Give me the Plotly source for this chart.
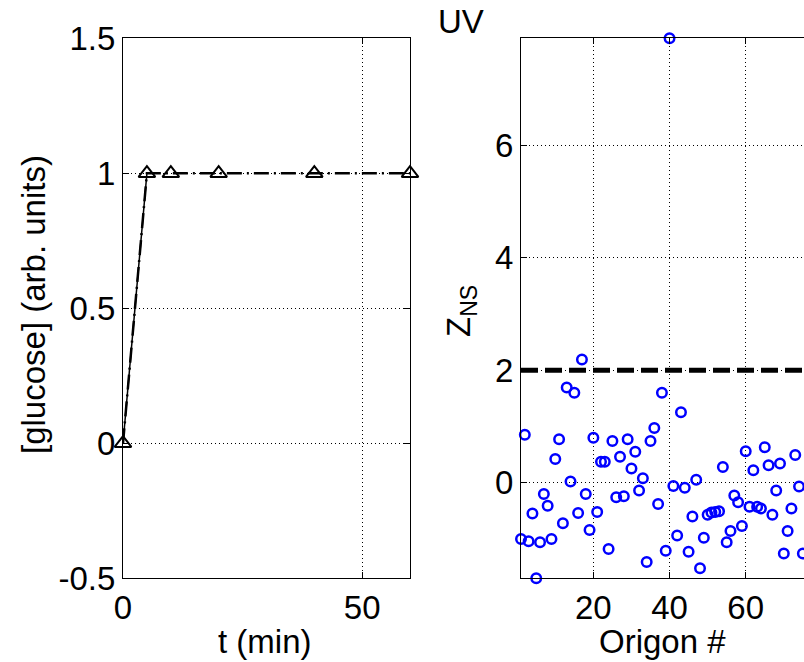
import plotly.graph_objects as go

# ---------------- data ----------------
t_min = [0, 5, 10, 20, 40, 60]
glucose = [0, 1, 1, 1, 1, 1]
ramp_t = [0, 5]
ramp_v = [0, 1]

origon = list(range(1, 77))
z_ns = [-1.00, 0.85, -1.04, -0.55, -1.70, -1.06, -0.20, -0.41, -1.00, 0.42,
        0.77, -0.72, 1.69, 0.02, 1.60, -0.54, 2.19, -0.20, -0.84, 0.80,
        -0.52, 0.37, 0.37, -1.18, 0.74, -0.26, 0.46, -0.24, 0.77, 0.25,
        0.55, -0.14, 0.08, -1.41, 0.74, 0.97, -0.38, 1.60, -1.21, 7.90,
        -0.06, -0.94, 1.25, -0.09, -1.23, -0.60, 0.05, -1.52, -0.98, -0.57,
        -0.53, -0.52, -0.51, 0.28, -1.06, -0.86, -0.23, -0.35, -0.77, 0.56,
        -0.43, 0.22, -0.43, -0.46, 0.63, 0.31, -0.57, -0.14, 0.34, -1.26,
        -0.86, -0.46, 0.49, -0.07, -1.26, 0.22]
threshold = 2

left_yticks = [-0.5, 0, 0.5, 1, 1.5]
left_yticklabels = ["-0.5", "0", "0.5", "1", "1.5"]
left_xticks = [0, 50]
right_xticks = [20, 40, 60]
right_yticks = [0, 2, 4, 6]

# ---------------- layout helpers ----------------
W, H = 804, 662
FONT = "Liberation Sans, Arial, Helvetica, sans-serif"
FS = 33


def px(x):
    return x / W


def py(y):
    return 1 - y / H


fig = go.Figure()

fig.add_trace(go.Scatter(x=ramp_t, y=ramp_v, mode="lines",
                         line=dict(color="black", width=1.5),
                         xaxis="x", yaxis="y", showlegend=False,
                         cliponaxis=False))
fig.add_trace(go.Scatter(x=t_min, y=glucose, mode="lines+markers",
                         line=dict(color="black", width=2.5, dash="15px,5px,2px,5px"),
                         marker=dict(symbol="triangle-up-open", size=14.5,
                                     color="black", line=dict(width=2, color="black")),
                         xaxis="x", yaxis="y", showlegend=False,
                         cliponaxis=False))

fig.add_trace(go.Scatter(x=origon, y=z_ns, mode="markers",
                         marker=dict(symbol="circle-open", size=9.5,
                                     color="#0000ff", line=dict(width=2.5, color="#0000ff")),
                         xaxis="x2", yaxis="y2", showlegend=False,
                         cliponaxis=False))

fig.add_shape(type="line", xref="x2 domain", yref="y2",
              x0=0, x1=1, y0=threshold, y1=threshold,
              line=dict(color="black", width=5, dash="17px,7px"))

common_axis = dict(
    showline=True, linecolor="black", linewidth=1,
    ticks="inside", ticklen=6, tickcolor="black", tickwidth=1,
    showgrid=True, gridcolor="black", gridwidth=1, griddash="1px,3px",
    zeroline=False, automargin=False,
    tickfont=dict(family=FONT, size=FS, color="black"),
)

y_dom = [py(578.3), py(38.3)]

fig.update_layout(
    width=W, height=H,
    margin=dict(l=0, r=0, t=0, b=0, pad=0, autoexpand=False),
    paper_bgcolor="white", plot_bgcolor="white",
    font=dict(family=FONT, size=FS, color="black"),
    xaxis=dict(domain=[px(123), px(410)], range=[0, 60], tickvals=left_xticks,
               mirror="ticks", anchor="y", **common_axis),
    yaxis=dict(domain=y_dom, range=[-0.5, 1.5], tickvals=left_yticks,
               ticktext=left_yticklabels, mirror="ticks", anchor="x",
               **common_axis),
    xaxis2=dict(domain=[px(521), 1.0], range=[1, 75.3], tickvals=right_xticks,
                mirror="ticks", anchor="y2", **common_axis),
    yaxis2=dict(domain=y_dom, range=[min(z_ns), max(z_ns)], tickvals=right_yticks,
                mirror=False, anchor="x2", **common_axis),
)

ann = dict(xref="paper", yref="paper", showarrow=False,
           font=dict(family=FONT, size=FS, color="black"))
fig.add_annotation(text="t (min)", x=px(265), y=py(641), xanchor="center", yanchor="middle", **ann)
fig.add_annotation(text="Origon #", x=px(662), y=py(641), xanchor="center", yanchor="middle", **ann)
fig.add_annotation(text="[glucose] (arb. units)", x=px(33), y=py(305), textangle=-90,
                   xanchor="center", yanchor="middle", **ann)
fig.add_annotation(text="Z<sub>NS</sub>", x=px(461), y=py(311), textangle=-90,
                   xanchor="center", yanchor="middle", **ann)
fig.add_annotation(text="UV", x=px(461), y=py(21), xanchor="center", yanchor="middle", **ann)

fig.write_html("out.html")
